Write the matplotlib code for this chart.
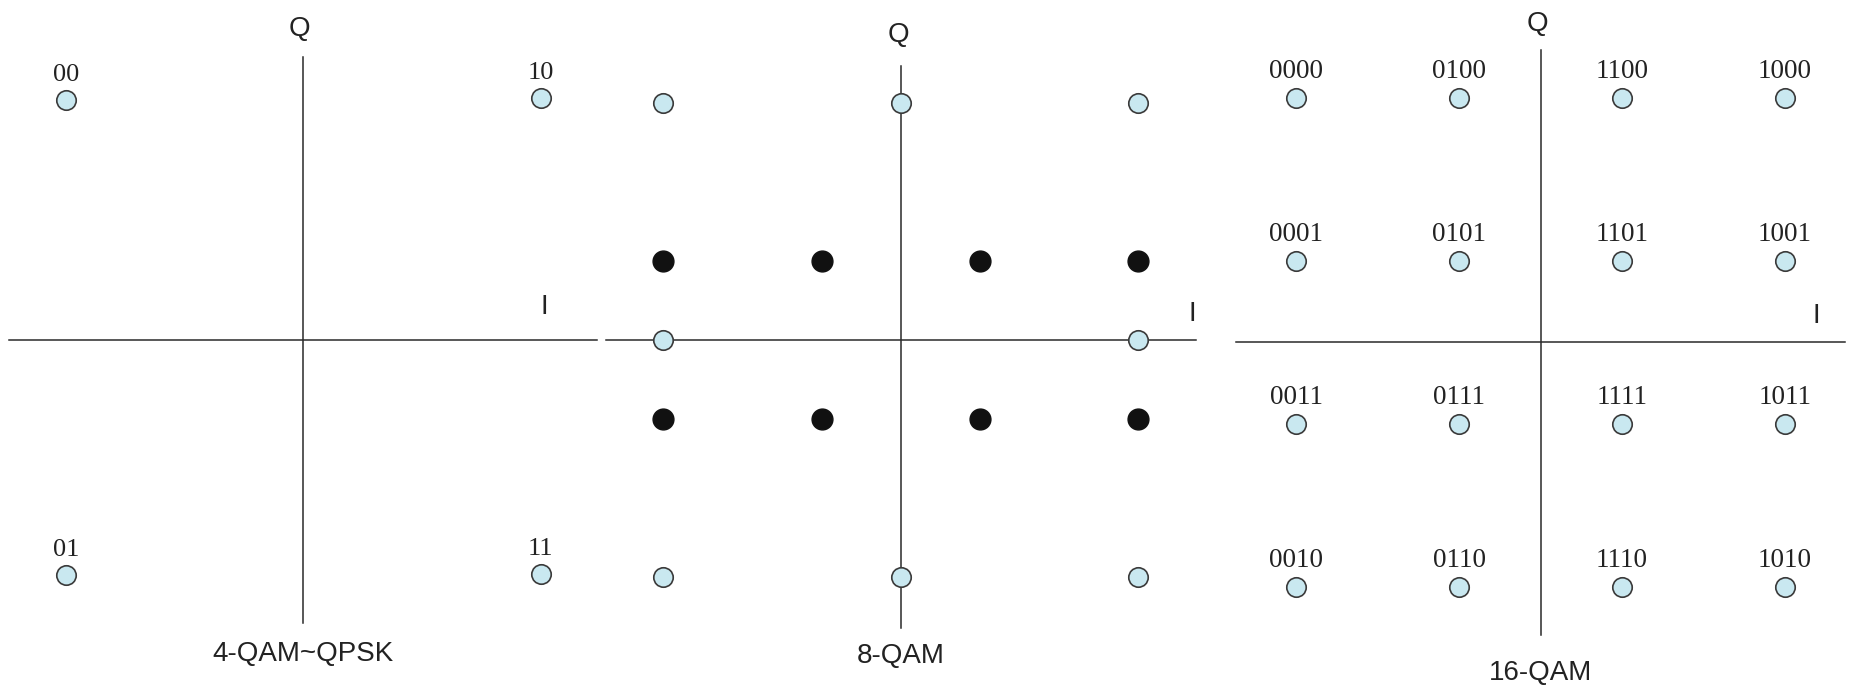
import numpy as np
import matplotlib.pyplot as plt

# 4-QAM ~ QPSK constellation
qam4_i = [-1, 1, -1, 1]
qam4_q = [1, 1, -1, -1]
qam4_labels = ['00', '10', '01', '11']

# 8-QAM: light (outer) points and black (inner) points
qam8_light_i = [-3, 0, 3, -3, 3, -3, 0, 3]
qam8_light_q = [3, 3, 3, 0, 0, -3, -3, -3]
qam8_dark_i = [-3, -1, 1, 3, -3, -1, 1, 3]
qam8_dark_q = [1, 1, 1, 1, -1, -1, -1, -1]

# 16-QAM
qam16_i = [-3, -1, 1, 3] * 4
qam16_q = [3] * 4 + [1] * 4 + [-1] * 4 + [-3] * 4
qam16_labels = ['0000', '0100', '1100', '1000',
                '0001', '0101', '1101', '1001',
                '0011', '0111', '1111', '1011',
                '0010', '0110', '1110', '1010']

titles = ['4-QAM~QPSK', '8-QAM', '16-QAM']

W, H = 1851, 685
fig = plt.figure(figsize=(W / 100, H / 100), dpi=100)
fig.patch.set_facecolor('white')

light = '#c9e8f0'
edge = '#3a3a3a'
axis_col = '#2a2a2a'
sans = ['Liberation Sans', 'DejaVu Sans']
serif = ['Liberation Serif', 'DejaVu Serif']


def panel(x0, x1, cx, cy, unit):
    # axes covering pixel columns x0..x1, origin at (cx, cy) px from top-left
    ax = fig.add_axes([x0 / W, 0, (x1 - x0) / W, 1])
    ax.set_xlim((x0 - cx) / unit, (x1 - cx) / unit)
    ax.set_ylim((cy - H) / unit, cy / unit)
    ax.axis('off')
    return ax


def axes_cross(ax, xl, xr, yt, yb):
    ax.plot([xl, xr], [0, 0], color=axis_col, lw=1.1, zorder=1)
    ax.plot([0, 0], [yb, yt], color=axis_col, lw=1.1, zorder=1)


def light_pts(ax, i, q):
    ax.plot(i, q, 'o', ls='none', markersize=14, markerfacecolor=light,
            markeredgecolor=edge, markeredgewidth=1.2, zorder=3)


s = 1851 / 1568

# ---- panel 1
ax1 = panel(0, 600, 257 * s, 288 * s, 201 * s)
axes_cross(ax1, -1.239, 1.239, 1.194, -1.194)
light_pts(ax1, qam4_i, [1.01, 1.02, -0.99, -0.985])
for x, y, lab in zip(qam4_i, [1.01, 1.02, -0.99, -0.985], qam4_labels):
    ax1.annotate(lab, (x, y), xytext=(0, 18), textcoords='offset points',
                 ha='center', va='center', fontsize=19, family=serif, color='#222222')
ax1.text(-0.015, 1.31, 'Q', ha='center', va='center', fontsize=20, family=sans, color='#222222')
ax1.text(1.015, 0.139, 'I', ha='center', va='center', fontsize=20, family=sans, color='#222222')
ax1.text(0, -1.323, titles[0], ha='center', va='center', fontsize=20, family=sans, color='#222222')

# ---- panel 2
ax2 = panel(600, 1215, 763 * s, 288 * s, 67 * s)
axes_cross(ax2, -3.73, 3.73, 3.46, -3.64)
light_pts(ax2, qam8_light_i, qam8_light_q)
ax2.plot(qam8_dark_i, qam8_dark_q, 'o', ls='none', markersize=15,
         color='#111111', zorder=3)
ax2.text(-0.03, 3.85, 'Q', ha='center', va='center', fontsize=20, family=sans, color='#222222')
ax2.text(3.69, 0.33, 'I', ha='center', va='center', fontsize=20, family=sans, color='#222222')
ax2.text(0, -4.0, titles[1], ha='center', va='center', fontsize=20, family=sans, color='#222222')

# ---- panel 3
ax3 = panel(1215, 1851, 1305 * s, 290 * s, 69 * s)
axes_cross(ax3, -3.74, 3.74, 3.59, -3.59)
light_pts(ax3, qam16_i, qam16_q)
for x, y, lab in zip(qam16_i, qam16_q, qam16_labels):
    ax3.annotate(lab, (x, y), xytext=(0, 19), textcoords='offset points',
                 ha='center', va='center', fontsize=19.5, family=serif, color='#222222')
ax3.text(-0.04, 3.91, 'Q', ha='center', va='center', fontsize=20, family=sans, color='#222222')
ax3.text(3.38, 0.32, 'I', ha='center', va='center', fontsize=20, family=sans, color='#222222')
ax3.text(0, -4.06, titles[2], ha='center', va='center', fontsize=20, family=sans, color='#222222')

fig.savefig('out.png', dpi=100, facecolor='white')
